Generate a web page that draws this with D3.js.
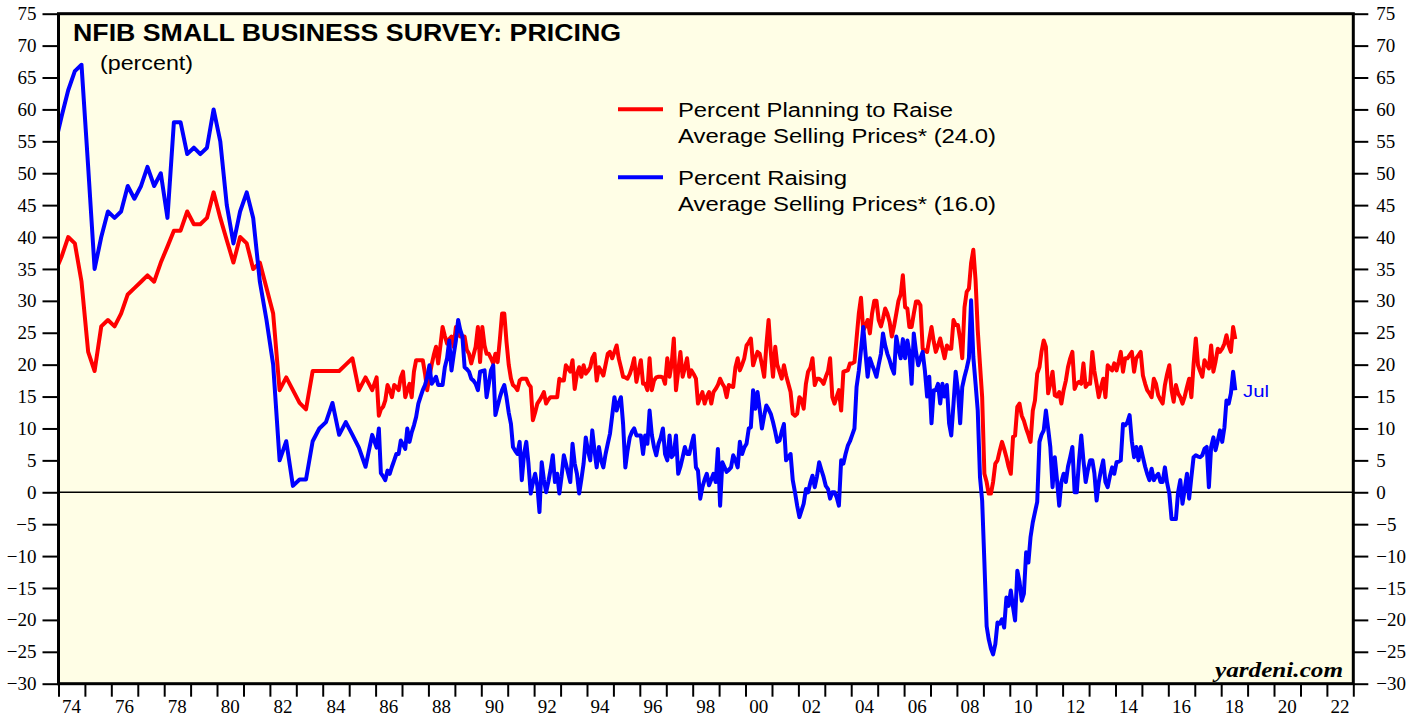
<!DOCTYPE html>
<html>
<head>
<meta charset="utf-8">
<script src="https://cdn.jsdelivr.net/npm/d3@7/dist/d3.min.js"></script>
<style>
  body { margin: 0; background: #fff; }
  svg { display: block; }
</style>
</head>
<body>
<svg id="chart"></svg>
<script>
// NFIB Small Business Survey: Pricing

// Quarterly survey, 1973 Q4 - 1985 Q4 (first point falls just left of the frame)
var planQuarterly = [
  34.5,
  37, 40, 39, 33, 22, 19, 26, 27, 26, 28, 31, 32,
  33, 34, 33, 36, 38.5, 41, 41, 44, 42, 42, 43, 47,
  43, 39.5, 36, 40, 39, 35, 36, 32, 28, 16, 18, 16,
  14, 13, 19, 19, 19, 19, 19, 20, 21, 16, 18, 16
]
var raiseQuarterly = [
  54.5,
  59, 63, 66, 67, 51, 35, 40, 44, 43, 44, 48, 46,
  48, 51, 48, 50, 43, 58, 58, 53, 54, 53, 54, 60,
  55, 45, 39, 44, 47, 43, 33, 27, 20, 5, 8, 1,
  2, 2, 8, 10, 11, 14, 9, 11, 9, 7, 4, 9
]

// Monthly survey, Jan 1986 - Jul 2018 (one row per year)
var planMonthly = [
  18, 12, 13, 13.4, 14.4, 16.8, 16, 14.9, 16.8, 16.5, 16, 18,
  18.9, 14.9, 16, 17, 14.9, 18.9, 20.7, 20.7, 20.7, 20.7, 18.6, 16,
  18.1, 20, 21.5, 22.8, 20.2, 23, 25.9, 24.5, 23.3, 24, 24.4, 22.8,
  25.9, 24.8, 24.4, 24.4, 24.4, 22.3, 21.7, 20.2, 21.5, 22.8, 25.9, 20.4,
  25.9, 23, 21.7, 21.7, 21, 20.2, 21.7, 20.4, 24, 28, 28, 23.6,
  20, 17.8, 16.8, 16.5, 16, 17.5, 17.8, 17.8, 17.8, 17, 16.5, 11.3,
  12.5, 13.9, 14.4, 15, 15.7, 13.9, 14.5, 14.9, 14.9, 14.9, 14.9, 17.8,
  17.5, 17.5, 19.9, 19.4, 18.9, 20.7, 16.2, 18.5, 19.6, 18.1, 19.9, 18.6,
  19, 19.6, 21, 21.7, 17.5, 19.6, 19, 18.3, 20, 21.7, 22, 21,
  22, 23, 21, 19.6, 18.1, 18, 17.8, 18.5, 19.6, 21, 17.3, 19,
  20.7, 17, 17, 16, 21, 16, 17.5, 18, 18.1, 18.1, 18, 17,
  21, 18.1, 20, 24.1, 16, 19, 22, 18.1, 19.5, 21, 18.1, 19.1,
  18.5, 17.8, 13.9, 14.8, 15.7, 13.9, 15, 15.7, 13.9, 15.7, 16.2, 16.8,
  17.8, 17, 16.5, 14.9, 16.8, 16.6, 16.5, 19.6, 21, 19.1, 20, 21,
  23, 23.5, 24.1, 19.9, 21, 22, 21.7, 20, 18.1, 23, 27, 22,
  18.1, 22.8, 20, 18.9, 17.8, 19.9, 18.3, 17, 15.7, 12.3, 12, 12.3,
  14.9, 14.5, 13.1, 17, 18.9, 19.5, 21, 16.8, 17.8, 17.8, 17.5, 17,
  18.1, 19, 21, 14.9, 13.9, 15, 16, 12.8, 18.9, 19, 19.1, 20.2,
  20.2, 20.4, 24.1, 28, 30.5, 25.4, 26, 27, 24.9, 28, 30, 30,
  27, 26, 27.2, 28.8, 28, 26.7, 24.4, 26, 28, 30, 31, 34,
  29, 28.8, 25.9, 25.9, 28, 29.9, 29.9, 29.3, 22.5, 22.2, 22, 24,
  25.9, 23.6, 22, 23, 24.1, 22.5, 21, 23, 22.5, 22.5, 27, 26.2,
  26.2, 24, 21, 29, 31.4, 31.9, 35.9, 38, 33.2, 25.4, 20, 14.9,
  2.9, 1.6, -0.2, -0.2, 1.6, 4.5, 5, 6.5, 7.9, 6.8, 5.5, 4,
  2.9, 8.7, 8.9, 13.4, 13.9, 12, 11.2, 10, 9, 7.9, 12.8, 14.4,
  18.6, 19.6, 22, 23.8, 22.8, 15.5, 17, 18.9, 15.2, 15, 15.7, 13.9,
  16, 17.5, 19.6, 21, 22, 16.2, 17, 17.3, 17, 20.2, 16.5, 17,
  17, 22, 19, 17, 14.9, 16.5, 17.8, 14.9, 19.9, 19.5, 19.1, 20.2,
  19.1, 20.5, 22, 18.9, 21, 21, 21.5, 22, 18.9, 21, 21.5, 22,
  18.3, 17, 16, 15.5, 14.9, 17.8, 17, 15.2, 14.5, 13.9, 16.8, 18.5,
  19.9, 16, 14.2, 16.8, 15.5, 14.9, 13.9, 15, 16.5, 17.8, 14.9, 20,
  24.1, 19.9, 19, 18.1, 20.7, 20, 19.4, 23, 18.9, 20.5, 22.5, 22,
  22.5, 23.3, 24.6, 23, 22, 25.9, 24
]
var raiseMonthly = [
  7, 10, 3, 2.5, 1.9, 3.4, 2.9, 4, 5, 6, 6, 8.1,
  7.5, 6.8, 10, 7.9, 9.4, 10.5, 11.8, 13.9, 15, 16, 16.8, 18,
  19.9, 17, 17.5, 18.1, 16.8, 16.8, 16.8, 19.6, 21, 23.8, 19.1, 21.5,
  23.8, 27, 25.5, 24.4, 19.6, 19.3, 18.9, 17.8, 17.5, 17, 16, 18.9,
  19, 19.1, 14.9, 17, 19.1, 19.9, 12.1, 13.5, 14.9, 16, 16.8, 14.9,
  12.5, 10.7, 7.1, 6.5, 6, 7.9, 1.9, 6, 7.9, 4.5, -0.2, 1.5,
  2.9, 1, -3.1, 4.7, 2, 0, 1.6, 3.5, 5.8, 1.6, 2.9, -0.2,
  2.5, 5.8, 4.5, 3, 1.6, 7.6, 4.5, 2.9, -0.2, 2, 4.5, 8.6,
  6.5, 5, 9.7, 6.5, 3.9, 7.1, 5, 3.9, 6, 7.6, 9.2, 12,
  14.9, 12.8, 14, 14.9, 10.7, 3.9, 6.5, 8.6, 9.5, 10, 8.9, 8.9,
  8.9, 6, 8.9, 7.6, 12.8, 9, 7.1, 5.8, 7.6, 8.5, 10, 6,
  5, 8.9, 5.5, 6, 8.9, 2.9, 4, 5.5, 7.1, 6, 6, 7.5,
  8.9, 3.9, 3.4, -1, 0.8, 2, 2.9, 1.1, 2, 2.9, 1.6, 6.8,
  -2.1, 4.7, 4, 3.2, 3.5, 3.9, 5.8, 5, 3.9, 7.9, 6, 7,
  7.6, 10, 10.2, 16, 13.1, 15.7, 13, 10, 12, 13.6, 13, 12.3,
  11, 9.5, 7.9, 8.1, 9.5, 10.7, 5, 5.5, 6, 1.9, 0, -2.1,
  -3.9, -2.8, -1.8, 0.5, 0, 1.5, 2.6, 0.8, 2.5, 4.7, 3.5, 2.4,
  1, 0.5, -1, 0, 0, -0.8, -2.1, 5, 4.5, 6, 7.3, 8,
  9, 10, 16.5, 19, 22.3, 25.9, 22, 18.1, 21, 20, 19.1, 18.1,
  20, 21.7, 24.9, 23, 21.7, 20.7, 19.5, 18.6, 24.4, 22.5, 21, 24,
  21, 23.8, 22, 17, 24.9, 22, 19.9, 21, 22, 19.1, 15, 18.1,
  10.8, 16, 16, 17, 13.9, 17, 15, 16.8, 10.8, 8.9, 13.9, 18.9,
  16, 10.8, 16.5, 18.1, 19.4, 21, 30.1, 21.2, 17, 12.8, 2.4, -1.3,
  -11, -21, -23, -24.5, -25.4, -23.8, -20.4, -20.6, -19.9, -21.2, -16.5, -17.8,
  -15.4, -18, -20.1, -12.3, -14, -17, -15.9, -9.4, -11, -7, -4.7, -3.1,
  -1.5, 7.9, 9, 9.7, 12.8, 10, 7.1, 0.8, 5.5, 2, -2.1, 1.6,
  2.9, 1.6, 4, 5.5, 7.1, 0, 0, 5, 8.9, 5, 1.6, 3.5,
  5, 5, 3, -1.3, 1.6, 3.5, 5, 1.6, 0.8, 2.5, 3.9, 2.9,
  4.7, 4.8, 5, 10.7, 10.5, 11, 12.1, 8, 5.5, 7.1, 5, 7.1,
  5.5, 4, 2.9, 1.9, 3.7, 1.9, 2.5, 2.9, 1.6, 1.6, 3.9, 1.5,
  -0.2, -4.2, -4.2, -4.2, 0, 1.9, -1.8, 0.5, 2.9, -1, 2.4, 5.5,
  5.8, 5.6, 5.5, 5.8, 6.8, 7.1, 0.8, 7.1, 8.6, 6.6, 8.1, 9.7,
  7.9, 10.2, 14.4, 13.9, 15.5, 18.9, 16
]

// Axis and legend text
var yTickValues = [-30, -25, -20, -15, -10, -5, 0, 5, 10, 15, 20, 25, 30, 35, 40, 45, 50, 55, 60, 65, 70, 75]
var xLabelYears = [1974, 1976, 1978, 1980, 1982, 1984, 1986, 1988, 1990, 1992, 1994, 1996, 1998,
  2000, 2002, 2004, 2006, 2008, 2010, 2012, 2014, 2016, 2018, 2020, 2022]
var planLabel = ['Percent Planning to Raise', 'Average Selling Prices* (24.0)']
var raiseLabel = ['Percent Raising', 'Average Selling Prices* (16.0)']

var conf = {
  width: 1419,
  height: 717,
  left: 58.5,
  right: 1353.3,
  top: 13.7,
  bottom: 683.7
}

var serif = "'Liberation Serif', 'Times New Roman', serif"
var sans = "'Liberation Sans', Arial, Helvetica, sans-serif"

var svg = d3.select('#chart')
  .attr('width', conf.width)
  .attr('height', conf.height)

var x = d3.scaleTime()
  .domain([new Date(1974, 0, 1), new Date(2023, 0, 1)])
  .range([conf.left, conf.right])

var y = d3.scaleLinear()
  .domain([-30, 75])
  .range([conf.bottom, conf.top])

// Quarterly points sit mid-quarter (from Nov 1973), monthly points mid-month
function toPoints (quarterly, monthly) {
  var points = quarterly.map(function (v, i) {
    return { date: new Date(1973, 10 + i * 3, 15), value: v }
  })
  monthly.forEach(function (v, i) {
    points.push({ date: new Date(1986 + Math.floor(i / 12), i % 12, 15), value: v })
  })
  return points
}

var planPoints = toPoints(planQuarterly, planMonthly)
var raisePoints = toPoints(raiseQuarterly, raiseMonthly)

// Plot background
svg.append('rect')
  .attr('x', conf.left)
  .attr('y', conf.top)
  .attr('width', conf.right - conf.left)
  .attr('height', conf.bottom - conf.top)
  .attr('fill', '#fffee6')

svg.append('clipPath')
  .attr('id', 'plot-clip')
  .append('rect')
    .attr('x', conf.left)
    .attr('y', conf.top)
    .attr('width', conf.right - conf.left)
    .attr('height', conf.bottom - conf.top)

// Zero line
svg.append('line')
  .attr('x1', conf.left)
  .attr('x2', conf.right)
  .attr('y1', y(0))
  .attr('y2', y(0))
  .attr('stroke', '#000')
  .attr('stroke-width', 1.3)

// Series
var line = d3.line()
  .x(function (d) { return x(d.date) })
  .y(function (d) { return y(d.value) })

var plot = svg.append('g').attr('clip-path', 'url(#plot-clip)')

plot.append('path')
  .datum(planPoints)
  .attr('d', line)
  .attr('fill', 'none')
  .attr('stroke', '#ff0000')
  .attr('stroke-width', 4)
  .attr('stroke-linejoin', 'round')

plot.append('path')
  .datum(raisePoints)
  .attr('d', line)
  .attr('fill', 'none')
  .attr('stroke', '#0000ff')
  .attr('stroke-width', 4)
  .attr('stroke-linejoin', 'round')

// Y axes, both sides
function styleAxis (g) {
  g.attr('font-family', serif).attr('font-size', 19)
  g.select('.domain').remove()
  g.selectAll('.tick line').attr('stroke', '#000').attr('stroke-width', 2)
  g.selectAll('.tick text').attr('fill', '#000').style('font-family', serif).style('font-size', '19px')
}

svg.append('g')
  .attr('transform', 'translate(' + conf.left + ',0)')
  .call(d3.axisLeft(y).tickValues(yTickValues).tickSize(16).tickPadding(6))
  .call(styleAxis)

svg.append('g')
  .attr('transform', 'translate(' + conf.right + ',0)')
  .call(d3.axisRight(y).tickValues(yTickValues).tickSize(15).tickPadding(8))
  .call(styleAxis)

// X axis: a tick every year, labels for even years
var yearTicks = d3.timeYear.range(new Date(1974, 0, 1), new Date(2023, 0, 2))

svg.append('g')
  .attr('transform', 'translate(0,' + conf.bottom + ')')
  .call(d3.axisBottom(x).tickValues(yearTicks).tickSize(13).tickFormat(''))
  .call(styleAxis)

svg.append('g')
  .selectAll('text')
  .data(xLabelYears)
  .enter()
    .append('text')
    .attr('x', function (d) { return x(new Date(d, 6, 1)) })
    .attr('y', 713)
    .attr('text-anchor', 'middle')
    .style('font-family', serif)
    .style('font-size', '19px')
    .text(function (d) { return d3.format('02')(d % 100) })

// Frame
svg.append('rect')
  .attr('x', conf.left)
  .attr('y', conf.top)
  .attr('width', conf.right - conf.left)
  .attr('height', conf.bottom - conf.top)
  .attr('fill', 'none')
  .attr('stroke', '#000')
  .attr('stroke-width', 3)

// Title
svg.append('text')
  .attr('x', 73)
  .attr('y', 40.5)
  .style('font-family', sans)
  .style('font-size', '24px')
  .style('font-weight', 'bold')
  .attr('textLength', 548)
  .attr('lengthAdjust', 'spacingAndGlyphs')
  .text('NFIB SMALL BUSINESS SURVEY: PRICING')

svg.append('text')
  .attr('x', 100)
  .attr('y', 70)
  .style('font-family', sans)
  .style('font-size', '20px')
  .attr('textLength', 93)
  .attr('lengthAdjust', 'spacingAndGlyphs')
  .text('(percent)')

// Legend
function legendEntry (labels, color, lineY, widths) {
  svg.append('line')
    .attr('x1', 618)
    .attr('x2', 663)
    .attr('y1', lineY)
    .attr('y2', lineY)
    .attr('stroke', color)
    .attr('stroke-width', 4)

  labels.forEach(function (t, i) {
    svg.append('text')
      .attr('x', 678)
      .attr('y', lineY + 8 + i * 25.5)
      .style('font-family', sans)
      .style('font-size', '20px')
      .attr('textLength', widths[i])
      .attr('lengthAdjust', 'spacingAndGlyphs')
      .text(t)
  })
}

legendEntry(planLabel, '#ff0000', 109.3, [275, 318])
legendEntry(raiseLabel, '#0000ff', 177.3, [169, 318])

// Latest month marker
svg.append('text')
  .attr('x', 1243)
  .attr('y', 397)
  .attr('fill', '#0000ff')
  .style('font-family', sans)
  .style('font-size', '17px')
  .attr('textLength', 26)
  .attr('lengthAdjust', 'spacingAndGlyphs')
  .text('Jul')

// Source
svg.append('text')
  .attr('x', 1343)
  .attr('y', 676.5)
  .attr('text-anchor', 'end')
  .style('font-family', serif)
  .style('font-size', '22px')
  .style('font-style', 'italic')
  .style('font-weight', 'bold')
  .attr('textLength', 128)
  .attr('lengthAdjust', 'spacingAndGlyphs')
  .text('yardeni.com')
</script>
</body>
</html>
